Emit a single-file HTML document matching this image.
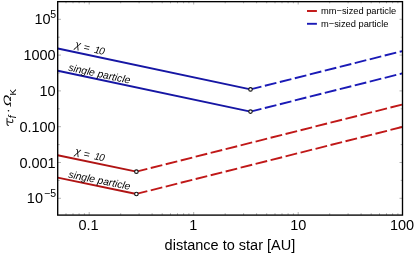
<!DOCTYPE html>
<html><head><meta charset="utf-8">
<style>
html,body{margin:0;padding:0;background:#fff;}
svg{display:block;will-change:transform;}
text{font-family:"Liberation Sans",sans-serif;fill:#000;}
</style></head><body>
<svg width="415" height="254" viewBox="0 0 415 254">
<rect width="415" height="254" fill="#fff"/>
<!-- ticks -->
<g stroke="#808080" stroke-width="0.6" fill="none" id="ticks">
<path d="M58 19.3h3M58 55.1h3M58 90.9h3M58 126.7h3M58 162.5h3M58 198.3h3M58 37.2h1.8M58 73h1.8M58 108.8h1.8M58 144.6h1.8M58 180.4h1.8"/>
<path d="M402.5 19.3h-3M402.5 55.1h-3M402.5 90.9h-3M402.5 126.7h-3M402.5 162.5h-3M402.5 198.3h-3M402.5 37.2h-1.8M402.5 73h-1.8M402.5 108.8h-1.8M402.5 144.6h-1.8M402.5 180.4h-1.8"/>
<path d="M89.2 215v-3M193.7 215v-3M298.2 215v-3M120.7 215v-1.8M139.1 215v-1.8M152.1 215v-1.8M162.2 215v-1.8M170.5 215v-1.8M177.5 215v-1.8M183.6 215v-1.8M188.9 215v-1.8M225.2 215v-1.8M243.6 215v-1.8M256.6 215v-1.8M266.7 215v-1.8M275 215v-1.8M282 215v-1.8M288.1 215v-1.8M293.4 215v-1.8M329.7 215v-1.8M348.1 215v-1.8M361.1 215v-1.8M371.2 215v-1.8M379.5 215v-1.8M386.5 215v-1.8M392.6 215v-1.8M397.9 215v-1.8M66 215v-1.8M73 215v-1.8M79.1 215v-1.8M84.4 215v-1.8"/>
<path d="M89.2 1.5v3M193.7 1.5v3M298.2 1.5v3M120.7 1.5v1.8M139.1 1.5v1.8M152.1 1.5v1.8M162.2 1.5v1.8M170.5 1.5v1.8M177.5 1.5v1.8M183.6 1.5v1.8M188.9 1.5v1.8M225.2 1.5v1.8M243.6 1.5v1.8M256.6 1.5v1.8M266.7 1.5v1.8M275 1.5v1.8M282 1.5v1.8M288.1 1.5v1.8M293.4 1.5v1.8M329.7 1.5v1.8M348.1 1.5v1.8M361.1 1.5v1.8M371.2 1.5v1.8M379.5 1.5v1.8M386.5 1.5v1.8M392.6 1.5v1.8M397.9 1.5v1.8M66 1.5v1.8M73 1.5v1.8M79.1 1.5v1.8M84.4 1.5v1.8"/>
</g>
<!-- lines -->
<g fill="none" stroke-width="1.9">
<path d="M57.8 48.5 L250.5 89.4" stroke="#1616a4"/>
<path d="M250.5 89.4 L402.5 51.05" stroke="#1a1ab6" stroke-dasharray="11.9 3.55" stroke-dashoffset="0.65"/>
<path d="M57.8 70.7 L250.5 111.6" stroke="#1616a4"/>
<path d="M250.5 111.6 L402.5 73.35" stroke="#1a1ab6" stroke-dasharray="11.9 3.55" stroke-dashoffset="0.65"/>
<path d="M57.7 155.2 L136.4 171.65" stroke="#b01414"/>
<path d="M136.4 171.65 L402.5 104.5" stroke="#c01818" stroke-dasharray="11.9 3.55" stroke-dashoffset="0.65"/>
<path d="M57.7 177.6 L136.4 193.95" stroke="#b01414"/>
<path d="M136.4 193.95 L402.5 126.9" stroke="#c01818" stroke-dasharray="11.9 3.55" stroke-dashoffset="0.65"/>
</g>
<g fill="#fff" stroke="#111" stroke-width="1.15">
<circle cx="250.5" cy="89.4" r="1.75"/><circle cx="250.5" cy="111.6" r="1.75"/>
<circle cx="136.4" cy="171.65" r="1.75"/><circle cx="136.4" cy="193.95" r="1.75"/>
</g>
<!-- frame -->
<rect x="57.7" y="1.65" width="344.8" height="213.45" fill="none" stroke="#000" stroke-width="1.35"/>
<!-- y labels -->
<g font-size="14.5" text-anchor="end">
<text x="50.6" y="24.4">10</text><text x="56" y="18.3" font-size="10.5">5</text>
<text x="55.7" y="60.4">1000</text>
<text x="55.7" y="96.2">10</text>
<text x="55.7" y="132">0.100</text>
<text x="55.7" y="167.8">0.001</text>
<text x="43" y="202.8">10</text><text x="56" y="197" font-size="10.5">−5</text>
</g>
<g font-size="14.5" text-anchor="middle">
<text x="88.5" y="230.4">0.1</text>
<text x="193.2" y="230.4">1</text>
<text x="298.2" y="230.4">10</text>
<text x="402" y="230.4">100</text>
</g>
<text x="164.6" y="249.6" font-size="14.52">distance to star [AU]</text>
<g transform="translate(13.3,126) rotate(-90)" font-style="italic">
<path d="M0.5,-4.9 C0.8,-6.0 1.4,-6.3 2.5,-6.3 L7.7,-6.3 M4.5,-6.3 L3.6,-2.2 C3.3,-0.5 4.3,0 6.3,-0.8" fill="none" stroke="#1a1a1a" stroke-width="1.05" stroke-linecap="round" stroke-linejoin="round"/>
<text x="7.8" y="2.4" font-size="10" fill="#222">f</text>
<circle cx="15.2" cy="-4.8" r="0.8" fill="#000"/>
<text transform="translate(18.9,-2.5) skewX(-10) scale(1.42,1.0)" font-size="10.6">Ω</text>
<text x="30.5" y="2.5" font-size="9.8" font-style="normal">K</text>
</g>
<!-- legend -->
<path d="M307 11 H316.9" stroke="#c01010" stroke-width="1.9"/>
<path d="M307 23.8 H316.9" stroke="#1a1ab6" stroke-width="1.9"/>
<g font-size="9.3"><text x="321" y="13.7">mm−sized particle</text><text x="321" y="26.6">m−sized particle</text></g>
<!-- annotations -->
<g font-size="10.3" font-style="italic" fill="#444">
<g transform="translate(73.3,48.3) rotate(12)" font-size="10.5"><text x="0.9" y="-1.1">χ</text><text x="9.8" y="0">=</text><text x="20.9" y="0" font-size="10" letter-spacing="-0.8">10</text></g>
<text transform="translate(67.9,70.6) rotate(12)">single particle</text>
<g transform="translate(73.3,155.1) rotate(11.5)" font-size="10.5"><text x="0.9" y="-1.1">χ</text><text x="9.8" y="0">=</text><text x="20.9" y="0" font-size="10" letter-spacing="-0.8">10</text></g>
<text transform="translate(67.9,177.4) rotate(11.5)">single particle</text>
</g>
</svg>
</body></html>
